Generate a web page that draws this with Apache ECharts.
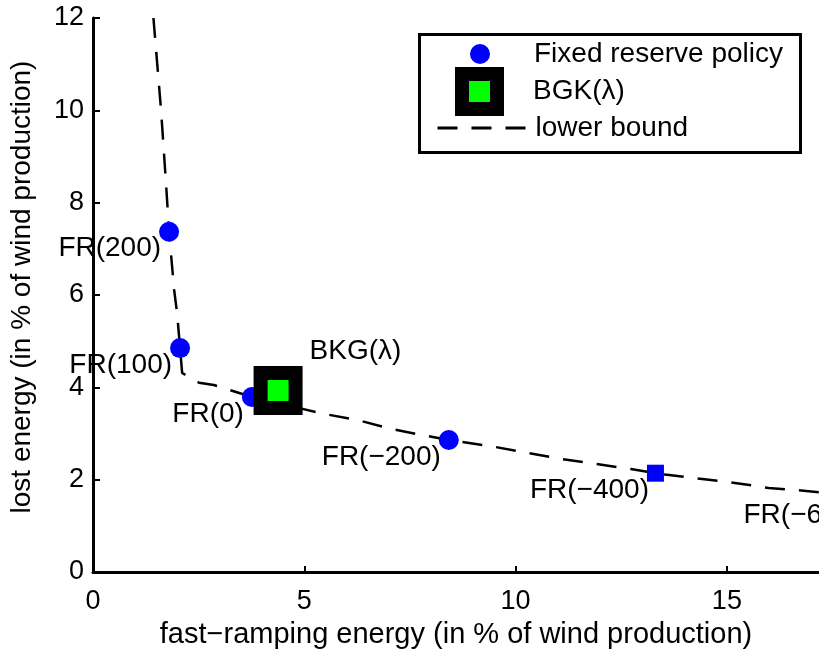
<!DOCTYPE html>
<html>
<head>
<meta charset="utf-8">
<script src="https://cdn.jsdelivr.net/npm/echarts@6/dist/echarts.min.js"></script>
<style>html,body{margin:0;padding:0;background:#fff}#c{width:819px;height:649px}</style>
</head>
<body>
<div id="c"></div>
<script>
// Fixed reserve policy points
const frX = [1.80, 2.06, 3.76, 8.42, 13.31, 18.4];
const frY = [7.37, 4.85, 3.79, 2.86, 2.14, 1.60];
const frLabels = ['FR(200)', 'FR(100)', 'FR(0)', 'FR(\u2212200)', 'FR(\u2212400)', 'FR(\u2212600)'];
// BGK(lambda) policy
const bgkX = [4.38];
const bgkY = [3.93];
const bgkLabels = ['BKG(\u03bb)'];
// lower bound curve
const lbX = [1.43, 1.61, 1.73, 1.80, 1.92, 1.99, 2.06, 2.11, 2.51, 2.86, 3.31, 3.76, 5.49, 6.27, 7.05, 7.88, 8.42, 9.51, 10.27, 11.07, 11.90, 12.73, 13.53, 14.36, 15.19, 15.99, 16.82, 17.5];
const lbY = [12.0, 10.01, 8.39, 7.37, 6.11, 5.61, 4.85, 4.31, 4.10, 4.05, 3.92, 3.79, 3.42, 3.29, 3.10, 2.95, 2.86, 2.71, 2.58, 2.45, 2.34, 2.23, 2.11, 2.02, 1.93, 1.82, 1.76, 1.70];
const xTicks = [0, 5, 10, 15];
const yTicks = [0, 2, 4, 6, 8, 10, 12];
const seriesNames = ['Fixed reserve policy', 'BGK(\u03bb)', 'lower bound'];
const xTitle = 'fast\u2212ramping energy (in % of wind production)';
const yTitle = 'lost energy (in % of wind production)';

const FONT = 'Liberation Sans';
const chart = echarts.init(document.getElementById('c'), null, {renderer: 'canvas'});

const frData = frX.map((x, i) => ({
  value: [x, frY[i]], name: frLabels[i],
  symbol: i === 4 ? 'rect' : 'circle',
  symbolSize: i === 4 ? 17 : 20
}));
const bgkData = bgkX.map((x, i) => ({value: [x, bgkY[i]], name: bgkLabels[i]}));
const lbData = lbX.map((x, i) => [x, lbY[i]]);

const option = {
  animation: false,
  backgroundColor: '#fff',
  grid: {left: 93, right: 0, top: 18, bottom: 77, containLabel: false, outerBoundsMode: 'none'},
  xAxis: {
    type: 'value', min: 0, max: 17.18, interval: 5,
    name: xTitle, nameLocation: 'middle', nameGap: 48,
    nameTextStyle: {fontFamily: FONT, fontSize: 29, color: '#000'},
    axisLine: {show: true, onZero: false, lineStyle: {color: '#000', width: 3}},
    axisTick: {show: true, inside: true, length: 6, lineStyle: {color: '#000', width: 2}},
    axisLabel: {show: true, showMaxLabel: false, margin: 16, fontFamily: FONT, fontSize: 27, color: '#000',
      formatter: v => xTicks.indexOf(v) >= 0 ? String(v) : ''},
    splitLine: {show: false}
  },
  yAxis: {
    type: 'value', min: 0, max: 12, interval: 2,
    name: yTitle, nameLocation: 'middle', nameGap: 57, nameRotate: 90,
    nameTextStyle: {fontFamily: FONT, fontSize: 28, color: '#000', padding: [0, 0, 0, 16]},
    axisLine: {show: true, onZero: false, lineStyle: {color: '#000', width: 3}},
    axisTick: {show: true, inside: true, length: 7, lineStyle: {color: '#000', width: 2}},
    axisLabel: {show: true, margin: 9, fontFamily: FONT, fontSize: 27, color: '#000',
      formatter: v => yTicks.indexOf(v) >= 0 ? String(v) : ''},
    splitLine: {show: false}
  },
  legend: [
    {
      data: [seriesNames[0]], left: 470, top: 40, padding: 0, orient: 'vertical',
      itemWidth: 20, itemHeight: 20, z: 10,
      textStyle: {fontFamily: FONT, fontSize: 28, color: '#000', padding: [0, 0, 0, 39]},
      itemStyle: {borderWidth: 0, opacity: 1}
    },
    {
      data: [seriesNames[1]], left: 455, top: 67, padding: 0, orient: 'vertical',
      itemWidth: 35, itemHeight: 35, z: 10,
      textStyle: {fontFamily: FONT, fontSize: 28, color: '#000', padding: [0, 0, 0, 31]},
      itemStyle: {borderWidth: 14, borderColor: '#000', opacity: 1}
    },
    {
      data: [seriesNames[2]], left: 436, top: 114, padding: 0, orient: 'vertical',
      itemWidth: 89, itemHeight: 14, z: 10,
      textStyle: {fontFamily: FONT, fontSize: 28, color: '#000', padding: [0, 0, 0, 4]},
      itemStyle: {color: 'rgba(0,0,0,0)', borderWidth: 0, opacity: 0},
      lineStyle: {width: 3, type: [20, 14], color: '#000', opacity: 1}
    }
  ],
  graphic: [{
    type: 'rect', z: 5, left: 418, top: 33,
    shape: {width: 381, height: 118},
    style: {fill: '#fff', stroke: '#000', lineWidth: 3}
  }],
  series: [
    {
      name: seriesNames[2], type: 'line', data: lbData, symbol: 'none', showSymbol: false,
      smooth: false, z: 1,
      lineStyle: {color: '#000', width: 2.5, type: [20, 14]},
      itemStyle: {color: '#000'}
    },
    {
      name: seriesNames[0], type: 'scatter', data: frData, clip: false, z: 3,
      itemStyle: {color: '#0000ff', opacity: 1},
      label: {show: true, position: 'left', distance: 0, offset: [2, 17],
        formatter: p => p.name, fontFamily: FONT, fontSize: 28, color: '#000'}
    },
    {
      name: seriesNames[1], type: 'scatter', data: bgkData, symbol: 'rect', symbolSize: 35, z: 4,
      itemStyle: {color: '#00ff00', borderColor: '#000', borderWidth: 14, opacity: 1},
      label: {show: true, position: 'right', distance: 0, offset: [7, -39],
        formatter: p => p.name, fontFamily: FONT, fontSize: 28, color: '#000'}
    }
  ]
};
chart.setOption(option);
</script>
</body>
</html>
